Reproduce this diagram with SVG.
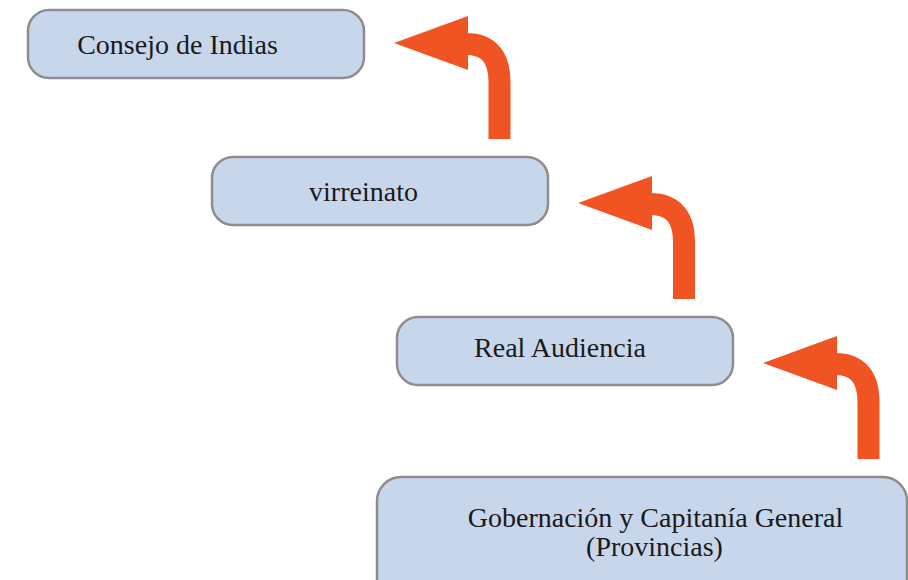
<svg xmlns="http://www.w3.org/2000/svg" width="908" height="580" viewBox="0 0 908 580">
<style>
.box{fill:#c8d6ec;stroke:#8d8d8d;stroke-width:2.5}
.lbl{font-family:"Liberation Serif","Times New Roman",serif;font-size:28px;fill:#1a1a1a;text-anchor:middle}
.shaft{fill:none;stroke:#f05423;stroke-width:22}
.head{fill:#f05423}
</style>
<rect width="908" height="580" fill="#ffffff"/>
<g id="connectors">
<g id="arrow1">
<path class="shaft" d="M499.5 139 L499.5 82 Q499.5 44 466 44"/>
<polygon class="head" points="394,43 468,16 468,70"/>
</g>
<g id="arrow2">
<path class="shaft" d="M684 299 L684 242 Q684 204 650 204"/>
<polygon class="head" points="578,203 652,176 652,230"/>
</g>
<g id="arrow3">
<path class="shaft" d="M868.5 459 L868.5 402 Q868.5 364 835 364"/>
<polygon class="head" points="763,363 837,336 837,390"/>
</g>
</g>
<g id="node-consejo">
<rect class="box" x="28" y="10" width="336" height="68" rx="21"/>
<text class="lbl" x="177.5" y="54">Consejo de Indias</text>
</g>
<g id="node-virreinato">
<rect class="box" x="212" y="157" width="336" height="68" rx="21"/>
<text class="lbl" x="363.5" y="201">virreinato</text>
</g>
<g id="node-audiencia">
<rect class="box" x="397" y="317" width="336" height="68" rx="21"/>
<text class="lbl" x="560" y="357">Real Audiencia</text>
</g>
<g id="node-gobernacion">
<rect class="box" x="377" y="477" width="530" height="130" rx="24"/>
<text class="lbl" x="655.5" y="527">Gobernación y Capitanía General</text>
<text class="lbl" x="654.5" y="556">(Provincias)</text>
</g>
</svg>
